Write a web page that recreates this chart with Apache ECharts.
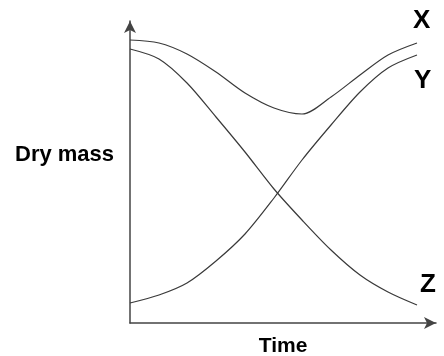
<!DOCTYPE html>
<html>
<head>
<meta charset="utf-8">
<style>
  html, body { margin: 0; padding: 0; background: #fff; }
  #chart { width: 444px; height: 356px; }
</style>
<script src="https://cdn.jsdelivr.net/npm/echarts@6/dist/echarts.min.js"></script>
</head>
<body>
<div id="chart"></div>
<script>
// time and dry mass (arbitrary units)
const time = [0, 29, 57, 86, 115, 144, 172, 201, 230, 258, 287];
const massX = [283, 280, 269, 251, 230, 215, 209, 226, 248, 268, 280];
const massY = [20, 28, 40, 62, 89, 125, 163, 198, 231, 255, 268];
const massZ = [274, 264, 240, 206, 171, 134, 103, 73, 48, 31, 18];

const seriesNames = ['X', 'Y', 'Z'];

const pairs = (xs, ys) => xs.map((x, i) => [x, ys[i]]);

const chart = echarts.init(document.getElementById('chart'));

const lineStyle = { color: '#3a3a3a', width: 1.2 };
const axisLine = {
  show: true,
  symbol: ['none', 'arrow'],
  symbolSize: [9, 12],
  lineStyle: { color: '#444', width: 1.5 }
};
const labelFont = { fontFamily: 'Liberation Sans', fontWeight: 'bold', fill: '#000' };

chart.setOption({
  animation: false,
  grid: { left: 130, top: 21, width: 306, height: 302, containLabel: false, outerBoundsMode: 'none' },
  xAxis: {
    type: 'value', min: 0, max: 306,
    axisLine: axisLine,
    axisTick: { show: false }, axisLabel: { show: false }, splitLine: { show: false },
    name: 'Time', nameLocation: 'middle', nameGap: 13,
    nameTextStyle: { fontFamily: 'Liberation Sans', fontWeight: 'bold', fontSize: 21, color: '#000' }
  },
  yAxis: {
    type: 'value', min: 0, max: 302,
    axisLine: axisLine,
    axisTick: { show: false }, axisLabel: { show: false }, splitLine: { show: false }
  },
  series: [
    { name: seriesNames[0], type: 'line', data: pairs(time, massX), smooth: 0.3, showSymbol: false, lineStyle: lineStyle },
    { name: seriesNames[1], type: 'line', data: pairs(time, massY), smooth: 0.3, showSymbol: false, lineStyle: lineStyle },
    { name: seriesNames[2], type: 'line', data: pairs(time, massZ), smooth: 0.3, showSymbol: false, lineStyle: lineStyle }
  ],
  graphic: [
    { type: 'text', left: 15, top: 144, style: Object.assign({ text: 'Dry mass', fontSize: 22 }, labelFont) },
    { type: 'text', left: 413, top: 8, style: Object.assign({ text: seriesNames[0], fontSize: 26 }, labelFont) },
    { type: 'text', left: 414, top: 68, style: Object.assign({ text: seriesNames[1], fontSize: 26 }, labelFont) },
    { type: 'text', left: 420, top: 272, style: Object.assign({ text: seriesNames[2], fontSize: 26 }, labelFont) }
  ]
});
</script>
</body>
</html>
